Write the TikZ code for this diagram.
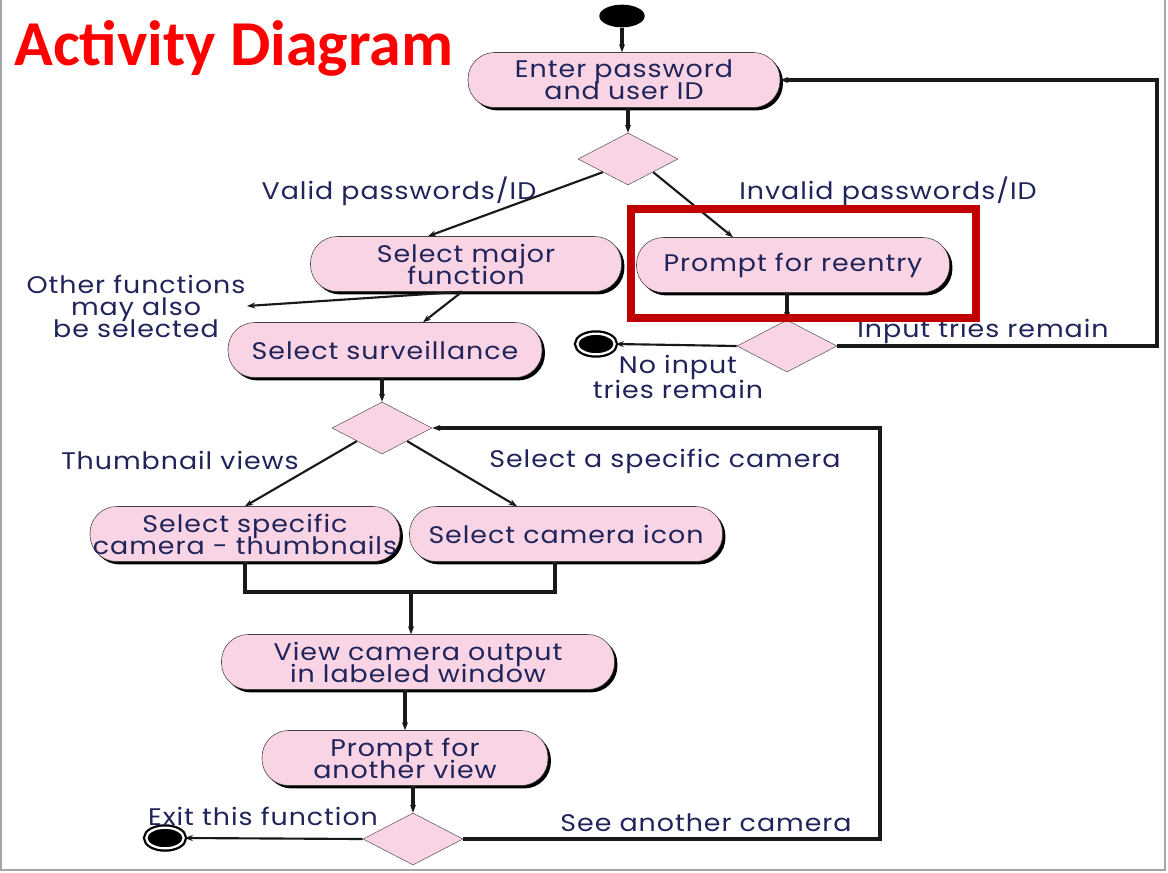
\documentclass[tikz,border=0pt]{standalone}
\usepackage{fontspec}
\setmainfont{Poppins}[FakeStretch=1.12,LetterSpace=4]
\newfontfamily\titlefont{Carlito}
\usetikzlibrary{arrows.meta,shapes.geometric,shadows}

\definecolor{nodepink}{RGB}{248,212,228}
\definecolor{textnavy}{RGB}{32,36,90}
\definecolor{boxred}{RGB}{192,0,0}
\definecolor{framegray}{RGB}{166,166,166}

\newcommand\diagfont{\fontsize{18pt}{16.5pt}\selectfont\lineskiplimit=-20pt\relax}

\tikzset{
    activity/.style={rectangle, rounded corners=20pt, draw=black!75, fill=nodepink, text=textnavy,
        minimum height=41.25pt, align=center, inner sep=0pt, font=\diagfont,
        drop shadow={shadow xshift=2.2pt, shadow yshift=-2.2pt, fill=black, opacity=1}},
    decision/.style={diamond, draw=black!65, fill=nodepink, minimum width=75pt, minimum height=39pt,
        inner sep=0pt, aspect=1.9},
    initial/.style={ellipse, fill=black, minimum width=34pt, minimum height=17pt, inner sep=0pt},
    final/.style={ellipse, draw=black, fill=black, line width=1.7pt, double=white, double distance=1.7pt,
        minimum width=28pt, minimum height=15.5pt, inner sep=0pt},
    guard/.style={text=textnavy, align=center, inner sep=1pt, font=\diagfont},
    flow/.style={->, line width=1.6pt, black!90},
    bigflow/.style={->, line width=2.6pt, black!90},
    loopflow/.style={->, line width=2.3pt, black!90},
    >={Stealth[length=6pt,width=4.5pt]}
}

\begin{document}
\begin{tikzpicture}[x=0.75pt, y=-0.75pt]
    \useasboundingbox (0,0) rectangle (1168,872);

    % Frame
    \draw[framegray, line width=2pt] (1,0) -- (1,870) -- (1165,870) -- (1165,0);

    % Title
    \node[anchor=base west, text=red, inner sep=0pt, font=\titlefont\bfseries\fontsize{48pt}{50pt}\selectfont](title) at (14,65){Activity Diagram};

    % Vertices
    \node[initial](start) at (622,16){};
    \node[activity, minimum width=234pt](enter) at (624,80){Enter password\\and user ID};
    \node[decision](dec1) at (628,159){};
    \node[activity, minimum width=233.25pt](major) at (466,264){Select major\\function};
    \node[activity, minimum width=234.75pt](reentry) at (793,265){Prompt for reentry};
    \node[decision](dec2) at (787,346){};
    \node[final](end1) at (596,344){};
    \node[activity, minimum width=235.5pt](surv) at (385,350){Select surveillance};
    \node[decision](dec3) at (382,428){};
    \node[activity, minimum width=232.5pt](thumbs) at (245,534){Select specific\\camera - thumbnails};
    \node[activity, minimum width=234.75pt](icon) at (566,534){Select camera icon};
    \node[activity, minimum width=294.75pt](view) at (418,662){View camera output\\in labeled window};
    \node[activity, minimum width=214.5pt](another) at (405,758){Prompt for\\another view};
    \node[decision](dec4) at (413,839){};
    \node[final](end2) at (165,838){};
    \coordinate(rloop) at (1157,200);
    \coordinate(lloop) at (880,600);
    \coordinate(join) at (411,592);

    % Guards
    \node[guard](validlbl) at (399,191){Valid passwords/ID};
    \node[guard](invalidlbl) at (888,191){Invalid passwords/ID};
    \node[guard](otherslbl) at (136,306){Other functions\\may also\\be selected};
    \node[guard](inputlbl) at (983,331){Input tries remain};
    \node[guard](noinputlbl) at (678,377){No input\\[2pt]tries remain};
    \node[guard](thumblbl) at (180,460){Thumbnail views};
    \node[guard](specificlbl) at (665,461){Select a specific camera};
    \node[guard](exitlbl) at (263,816){Exit this function};
    \node[guard](seelbl) at (706,823){See another camera};

    % Edges
    \draw[bigflow](start.south) -- (start.south |- enter.north);
    \draw[bigflow](dec1.north |- enter.south) -- (dec1.north);
    \draw[flow](dec1.south west) -- ([xshift=-28.5pt]major.north);
    \draw[flow](dec1.south east) -- ([xshift=-45pt]reentry.north);
    \draw[flow]([xshift=-3pt]major.south) -- (otherslbl.east);
    \draw[flow]([xshift=-3pt]major.south) -- ([xshift=28.5pt]surv.north);
    \draw[bigflow](dec2.north |- reentry.south) -- (dec2.north);
    \draw[flow](dec2.west) -- (end1.east);
    \draw[loopflow](dec2.east) -| (rloop) |- (enter.east);
    \draw[bigflow](dec3.north |- surv.south) -- (dec3.north);
    \draw[flow](dec3.south west) -- (thumbs.north);
    \draw[flow](dec3.south east) -- ([xshift=-36.75pt]icon.north);
    \draw[line width=2.4pt, black!90](thumbs.south) |- (join) -| ([xshift=-8.25pt]icon.south);
    \draw[bigflow](join) -- (join |- view.north);
    \draw[bigflow](another.north |- view.south) -- (another.north);
    \draw[bigflow](dec4.north |- another.south) -- (dec4.north);
    \draw[flow](dec4.west) -- (end2.east);
    \draw[loopflow](dec4.east) -| (lloop) |- (dec3.east);

    % Highlight
    \draw[boxred, line width=6pt](631,209) rectangle (976,318);

\end{tikzpicture}
\end{document}
